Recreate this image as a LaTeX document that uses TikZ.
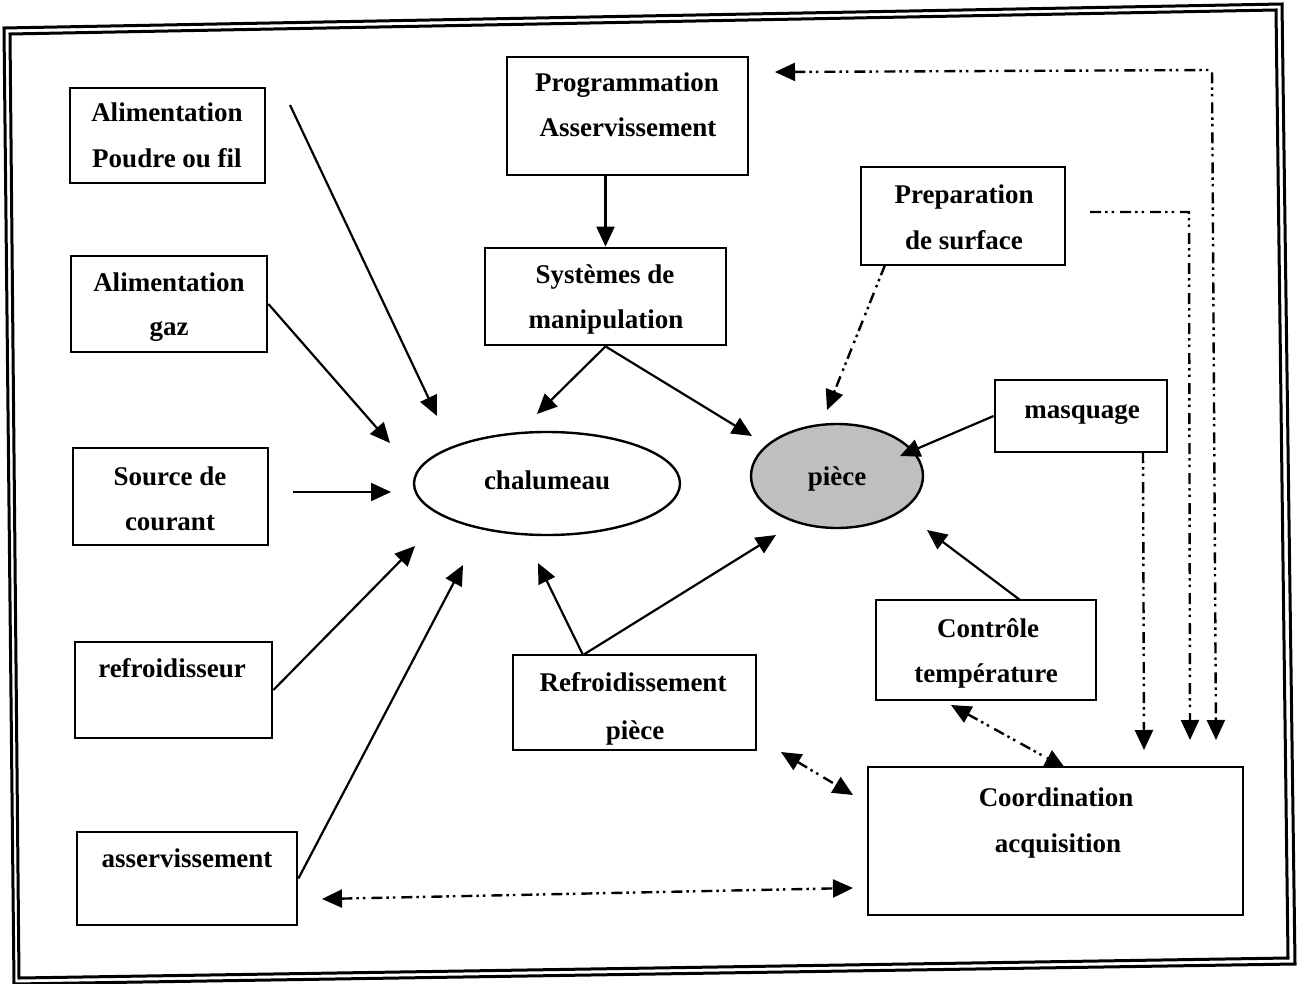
\documentclass[tikz,border=0pt]{standalone}
\usepackage{fontspec}
\setmainfont{Liberation Serif}
\usetikzlibrary{arrows.meta,shapes.geometric}
\begin{document}
\begin{tikzpicture}[x=1pt,y=-1pt,
  box/.style={draw, line width=2.8pt, rectangle, inner sep=0pt},
  oval/.style={draw, line width=2.4pt, ellipse, inner sep=0pt},
  lbl/.style={anchor=base, inner sep=0pt, font=\fontsize{27}{30}\selectfont\bfseries},
  arr/.style={line width=2.2pt, -{Triangle[length=20pt,width=18pt]}},
  dd/.style={line width=2.4pt, dash pattern=on 11pt off 4pt on 2.5pt off 4pt on 2.5pt off 6pt},
  ddone/.style={dd, -{Triangle[length=20pt,width=18pt]}},
  ddtwo/.style={dd, {Triangle[length=20pt,width=18pt]}-{Triangle[length=20pt,width=18pt]}},
  frame/.style={line width=3pt, line join=miter}]
\useasboundingbox (0,0) rectangle (1297,984);
\fill[white] (0,0) rectangle (1297,984);

% double frame
\draw[frame] (4,28) -- (1282,4) -- (1295,964) -- (14,984) -- cycle;
\draw[frame] (10,34) -- (1276,10) -- (1288,958) -- (19,978) -- cycle;

% boxes
\node[box, minimum width=195, minimum height=95] (b1) at (167.5,135.5) {};
\node[box, minimum width=196, minimum height=96] (b2) at (169,304) {};
\node[box, minimum width=195, minimum height=97] (b3) at (170.5,496.5) {};
\node[box, minimum width=197, minimum height=96] (b4) at (173.5,690) {};
\node[box, minimum width=220, minimum height=93] (b5) at (187,878.5) {};
\node[box, minimum width=241, minimum height=118] (b6) at (627.5,116) {};
\node[box, minimum width=241, minimum height=97] (b7) at (605.5,296.5) {};
\node[box, minimum width=204, minimum height=98] (b8) at (963,216) {};
\node[box, minimum width=172, minimum height=72] (b9) at (1081,416) {};
\node[box, minimum width=220, minimum height=100] (b10) at (986,650) {};
\node[box, minimum width=243, minimum height=95] (b11) at (634.5,702.5) {};
\node[box, minimum width=375, minimum height=148] (b12) at (1055.5,841) {};
\node[oval, minimum width=266, minimum height=103] (e1) at (547,483.5) {};
\node[oval, fill=black!25, minimum width=172, minimum height=104] (e2) at (837,476) {};

% labels
\node[lbl] (t1a) at (167,122) {Alimentation};
\node[lbl] (t1b) at (167,168) {Poudre ou fil};
\node[lbl] (t2a) at (169,291) {Alimentation};
\node[lbl] (t2b) at (169,335) {gaz};
\node[lbl] (t3a) at (170,485) {Source de};
\node[lbl] (t3b) at (170,530) {courant};
\node[lbl] (t4) at (172,677) {refroidisseur};
\node[lbl] (t5) at (187,867) {asservissement};
\node[lbl] (t6a) at (627,92) {Programmation};
\node[lbl] (t6b) at (628,137) {Asservissement};
\node[lbl] (t7a) at (605,283) {Systèmes de};
\node[lbl] (t7b) at (606,328) {manipulation};
\node[lbl] (t8a) at (964,204) {Preparation};
\node[lbl] (t8b) at (964,249) {de surface};
\node[lbl] (t9) at (1082,418) {masquage};
\node[lbl] (t10a) at (988,637) {Contrôle};
\node[lbl] (t10b) at (986,682) {température};
\node[lbl] (t11a) at (633,691) {Refroidissement};
\node[lbl] (t11b) at (635,739) {pièce};
\node[lbl] (t12a) at (1056,806) {Coordination};
\node[lbl] (t12b) at (1058,852) {acquisition};
\node[lbl] (te1) at (547,489) {chalumeau};
\node[lbl] (te2) at (837,485) {pièce};

% free connector ends
\coordinate (s1) at (290,105);   \coordinate (h1) at (437,416);
\coordinate (h2) at (390,443);
\coordinate (s3) at (293,492);   \coordinate (h3) at (391,492);
\coordinate (h4) at (415,546);
\coordinate (h5) at (463,565);
\coordinate (h7) at (537,414);
\coordinate (h8) at (752,436);
\coordinate (s11) at (583,655);
\coordinate (h11a) at (538,563);
\coordinate (h11b) at (776,535);
\coordinate (h9) at (900,456);
\coordinate (s10) at (1020,600);  \coordinate (h10) at (927,530);
\coordinate (s8) at (885,265);    \coordinate (h8b) at (827,410);
\coordinate (tl) at (775,72);     \coordinate (tc) at (1212,70);  \coordinate (td) at (1216,740);
\coordinate (ps) at (1090,212);   \coordinate (pc) at (1189,212); \coordinate (pd) at (1190,740);
\coordinate (ms) at (1143,452);   \coordinate (md) at (1144,750);
\coordinate (ca) at (951,705);    \coordinate (cb) at (1065,768);
\coordinate (ra) at (781,752);    \coordinate (rb) at (853,795);
\coordinate (aa) at (322,899);    \coordinate (ab) at (853,888);

% solid arrows
\draw[arr] (s1) -- (h1);
\draw[arr] (b2.east) -- (h2);
\draw[arr] (s3) -- (h3);
\draw[arr] (b4.east) -- (h4);
\draw[arr] (b5.east) -- (h5);
\draw[arr] (b7.north |- b6.south) -- (b7.north);
\draw[arr] (b7.south) -- (h7);
\draw[arr] (b7.south) -- (h8);
\draw[arr] (s11) -- (h11a);
\draw[arr] (s11) -- (h11b);
\draw[arr] (b9.west) -- (h9);
\draw[arr] (s10) -- (h10);

% dash-dot-dot connectors
\draw[ddone] (s8) -- (h8b);
\draw[ddtwo] (tl) -- (tc) -- (td);
\draw[ddone] (ps) -- (pc) -- (pd);
\draw[ddone] (ms) -- (md);
\draw[ddtwo] (ca) -- (cb);
\draw[ddtwo] (ra) -- (rb);
\draw[ddtwo] (aa) -- (ab);
\end{tikzpicture}
\end{document}
